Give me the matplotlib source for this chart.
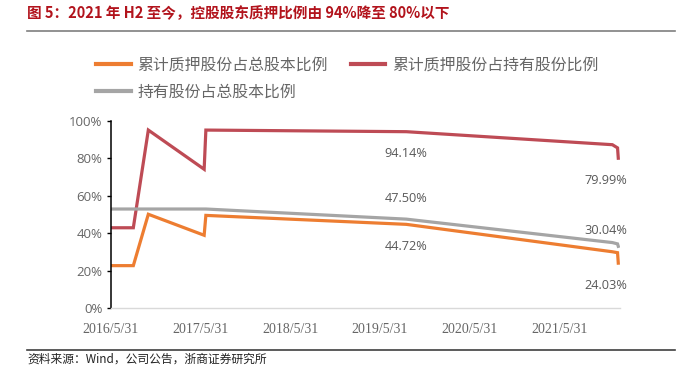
import matplotlib
matplotlib.use('Agg')
import matplotlib.pyplot as plt
import pandas as pd
from matplotlib.lines import Line2D

# ---------------- data ----------------
dates = pd.to_datetime(['2016-05-31', '2016-08-31', '2016-10-31', '2017-06-15', '2017-06-22',
                        '2019-09-15', '2021-12-31', '2022-01-21', '2022-01-24'])
pledge_total = [22.7, 22.7, 50.1, 38.9, 49.5, 44.72, 30.1, 29.6, 24.03]
pledge_held = [42.9, 42.9, 95.0, 74.1, 95.0, 94.14, 87.2, 85.5, 79.99]
held_total = [52.9, 52.9, 52.9, 52.9, 52.9, 47.50, 35.0, 34.3, 33.0]
series_names = ['累计质押股份占总股本比例', '累计质押股份占持有股份比例', '持有股份占总股本比例']

tick_dates = pd.to_datetime(['2016-05-31', '2017-05-31', '2018-05-31', '2019-05-31',
                             '2020-05-31', '2021-05-31'])
tick_labels = ['2016/5/31', '2017/5/31', '2018/5/31', '2019/5/31', '2020/5/31', '2021/5/31']
y_ticks = [0, 20, 40, 60, 80, 100]
y_tick_labels = ['0%', '20%', '40%', '60%', '80%', '100%']

# data labels: (series index, point index, text)
label_points = [(1, 5, '94.14%'), (2, 5, '47.50%'), (0, 5, '44.72%'),
                (1, 8, '79.99%'), (2, 8, '30.04%'), (0, 8, '24.03%')]

title = '图 5：2021 年 H2 至今，控股股东质押比例由 94%降至 80%以下'
source = '资料来源：Wind，公司公告，浙商证券研究所'

# ---------------- style ----------------
colors = ['#ED7D31', '#BE4B55', '#A5A5A5']
cjk = ['Noto Sans CJK SC', 'DejaVu Sans']
W, H = 685, 367

fig = plt.figure(figsize=(W / 100, H / 100), dpi=100)
fig.patch.set_facecolor('white')

ax = fig.add_axes([110.7 / W, (H - 308.2) / H, (620 - 110.7) / W, (308.2 - 120.7) / H])

all_series = [pledge_total, pledge_held, held_total]
handles = []
for vals, c, name in zip(all_series, colors, series_names):
    h, = ax.plot(dates, vals, color=c, lw=2.3, solid_joinstyle='miter', label=name)
    handles.append(h)

ax.set_xlim(pd.Timestamp('2016-05-31'), pd.Timestamp('2022-01-31'))
ax.set_ylim(0, 100)
ax.set_xticks(tick_dates)
ax.set_xticklabels(tick_labels, family='Liberation Serif', fontsize=10, color='#666666')
ax.set_yticks(y_ticks)
ax.set_yticklabels(y_tick_labels, family='Open Sans', fontsize=9.5, color='#666666')
ax.tick_params(axis='x', length=0, pad=11)
ax.tick_params(axis='y', length=3, width=1, color='black', pad=3, direction='out')

for s in ['top', 'right']:
    ax.spines[s].set_visible(False)
ax.spines['left'].set_color('black')
ax.spines['left'].set_linewidth(1.1)
ax.spines['bottom'].set_color('#D9D9D9')
ax.spines['bottom'].set_linewidth(1.0)

# data labels
px = 72 / 100
offsets = {'94.14%': (0, -22), '47.50%': (0, 21), '44.72%': (0, -22),
           '79.99%': (-12, -22), '30.04%': (-12, 16), '24.03%': (-12, -22)}
for si, pi, txt in label_points:
    dx, dy = offsets[txt]
    ax.annotate(txt, (dates[pi], all_series[si][pi]), xytext=(dx * px, dy * px),
                textcoords='offset points', ha='center', va='center',
                family='Open Sans', fontsize=9.2, color='#595959')

# legend
leg = fig.legend([handles[0], handles[2], handles[1]],
                 [series_names[0], series_names[2], series_names[1]],
                 ncol=2, loc='upper left', bbox_to_anchor=(96 / W, 1 - 57 / H),
                 frameon=False, prop={'family': cjk, 'size': 11.4},
                 handlelength=2.2, handletextpad=0.4, columnspacing=1.45,
                 labelspacing=0.62, borderpad=0, borderaxespad=0)
for t in leg.get_texts():
    t.set_color('#666666')
for l in leg.get_lines():
    l.set_linewidth(3)

# title and rules
fig.text(27 / W, 1 - 13 / H, title, va='center', ha='left', fontsize=10.5,
         fontweight='bold', color='#B2131C', family=cjk)
fig.add_artist(Line2D([27 / W, 675 / W], [1 - 31 / H] * 2, color='#7F7F7F', lw=1.2))
fig.add_artist(Line2D([27 / W, 675 / W], [1 - 350 / H] * 2, color='#404040', lw=1.2))
fig.text(27 / W, 1 - 366 / H, source, va='bottom', ha='left', fontsize=8.5,
         color='#222222', family=cjk)

fig.savefig('out.png', dpi=100, facecolor='white')
